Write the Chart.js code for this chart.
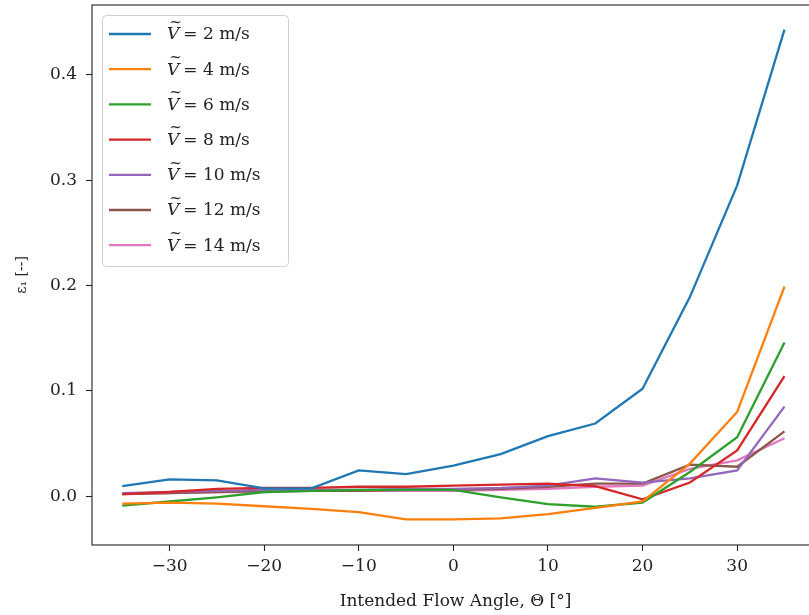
<!DOCTYPE html>
<html lang="en">
<head>
<meta charset="UTF-8">
<title>Flow angle error</title>
<script src="https://cdn.jsdelivr.net/npm/chart.js"></script>
<style>
    html, body {
        margin: 0;
        padding: 0;
        background: #fff;
        overflow: hidden;
    }
    #wrap {
        width: 820px;
        height: 615px;
    }
</style>
</head>
<body>
<div id="wrap"><canvas id="chart" width="820" height="615"></canvas></div>
<script>
    // intended flow angle (deg)
    const angles = [-35, -30, -25, -20, -15, -10, -5, 0, 5, 10, 15, 20, 25, 30, 35];

    // epsilon_1 for each wind speed
    const v2  = [0.0095, 0.016, 0.015, 0.0075, 0.0075, 0.0245, 0.021, 0.029, 0.040, 0.057, 0.069, 0.102, 0.189, 0.295, 0.443];
    const v4  = [-0.007, -0.006, -0.007, -0.0095, -0.012, -0.015, -0.022, -0.022, -0.021, -0.017, -0.011, -0.005, 0.031, 0.080, 0.199];
    const v6  = [-0.009, -0.005, -0.001, 0.004, 0.005, 0.006, 0.006, 0.006, -0.001, -0.0075, -0.010, -0.006, 0.023, 0.056, 0.146];
    const v8  = [0.002, 0.004, 0.007, 0.008, 0.008, 0.009, 0.009, 0.010, 0.011, 0.012, 0.0095, -0.003, 0.013, 0.0435, 0.114];
    const v10 = [0.003, 0.004, 0.005, 0.006, 0.006, 0.006, 0.007, 0.007, 0.008, 0.010, 0.017, 0.013, 0.017, 0.0245, 0.085];
    const v12 = [0.002, 0.003, 0.004, 0.005, 0.005, 0.005, 0.006, 0.006, 0.007, 0.009, 0.012, 0.012, 0.030, 0.028, 0.0615];
    const v14 = [0.002, 0.003, 0.004, 0.004, 0.005, 0.005, 0.005, 0.005, 0.006, 0.007, 0.009, 0.010, 0.026, 0.034, 0.055];

    const speeds = ['2', '4', '6', '8', '10', '12', '14'];
    const seriesList = [v2, v4, v6, v8, v10, v12, v14];
    const colors = ['#1f77b4', '#ff7f0e', '#2ca02c', '#d62728', '#9467bd', '#8c564b', '#e377c2'];

    const xTicks = [-30, -20, -10, 0, 10, 20, 30];
    const yTicks = [0.0, 0.1, 0.2, 0.3, 0.4];

    const FONT = "'DejaVu Serif', serif";

    const datasets = seriesList.map(function (s, i) {
        return {
            label: 'V = ' + speeds[i] + ' m/s',
            data: angles.map(function (a, j) { return { x: a, y: s[j] }; }),
            borderColor: colors[i],
            backgroundColor: colors[i],
            borderWidth: 2.3,
            pointRadius: 0,
            tension: 0,
            fill: false
        };
    });

    // box around the plot area (matplotlib style spines)
    const framePlugin = {
        id: 'frame',
        afterDraw(chart) {
            const a = chart.chartArea;
            const ctx = chart.ctx;
            ctx.save();
            ctx.strokeStyle = '#222';
            ctx.lineWidth = 1.1;
            ctx.strokeRect(a.left, a.top, a.right - a.left, a.bottom - a.top);
            ctx.restore();
        }
    };

    // legend in the upper-left corner, drawn by hand
    const legendPlugin = {
        id: 'boxLegend',
        afterDatasetsDraw(chart) {
            const ctx = chart.ctx;
            const x0 = 102, y0 = 15, w = 186, h = 251, r = 4;
            ctx.save();
            ctx.beginPath();
            ctx.roundRect(x0 + 0.5, y0 + 0.5, w, h, r);
            ctx.fillStyle = 'rgba(255,255,255,0.8)';
            ctx.fill();
            ctx.strokeStyle = '#d0d0d0';
            ctx.lineWidth = 1;
            ctx.stroke();

            ctx.textBaseline = 'middle';
            chart.data.datasets.forEach(function (ds, i) {
                const y = 34 + i * 35.2;
                ctx.strokeStyle = ds.borderColor;
                ctx.lineWidth = 2.3;
                ctx.beginPath();
                ctx.moveTo(109, y);
                ctx.lineTo(151, y);
                ctx.stroke();

                ctx.fillStyle = '#222';
                ctx.font = 'italic 17px ' + FONT;
                ctx.fillText('V', 167, y + 1);
                const vw = ctx.measureText('V').width;
                ctx.font = '15px ' + FONT;
                ctx.fillText('~', 167 + vw / 2 - 4, y - 11);
                ctx.font = '17px ' + FONT;
                ctx.fillText('= ' + speeds[i] + ' m/s', 167 + vw + 4, y + 1);
            });
            ctx.restore();
        }
    };

    const ctx = document.getElementById('chart').getContext('2d');
    new Chart(ctx, {
        type: 'line',
        data: { datasets: datasets },
        options: {
            responsive: false,
            animation: false,
            layout: { padding: { top: 5, right: 1, left: 0, bottom: 0 } },
            plugins: {
                legend: { display: false },
                tooltip: { enabled: false }
            },
            scales: {
                x: {
                    type: 'linear',
                    min: -38.2,
                    max: 38.65,
                    afterBuildTicks(scale) {
                        scale.ticks = xTicks.map(function (v) { return { value: v }; });
                    },
                    afterFit(scale) {
                        scale.height = 70;
                        scale.paddingLeft = 0;
                        scale.paddingRight = 0;
                    },
                    grid: {
                        drawOnChartArea: false,
                        drawTicks: true,
                        tickLength: 6,
                        color: '#222',
                        tickWidth: 1.1
                    },
                    border: { display: false },
                    ticks: {
                        color: '#222',
                        padding: 5,
                        maxRotation: 0,
                        font: { family: FONT, size: 17 },
                        callback: function (v) { return v < 0 ? '\u2212' + Math.abs(v) : String(v); }
                    },
                    title: {
                        display: true,
                        text: 'Intended Flow Angle, \u0398 [\u00b0]',
                        color: '#222',
                        font: { family: FONT, size: 17 },
                        padding: { top: 0, bottom: 3 }
                    }
                },
                y: {
                    type: 'linear',
                    min: -0.0463,
                    max: 0.4663,
                    afterBuildTicks(scale) {
                        scale.ticks = yTicks.map(function (v) { return { value: v }; });
                    },
                    afterFit(scale) {
                        scale.width = 92;
                        scale.paddingTop = 0;
                        scale.paddingBottom = 0;
                    },
                    grid: {
                        drawOnChartArea: false,
                        drawTicks: true,
                        tickLength: 6,
                        color: '#222',
                        tickWidth: 1.1
                    },
                    border: { display: false },
                    ticks: {
                        color: '#222',
                        padding: 9,
                        font: { family: FONT, size: 17 },
                        callback: function (v) { return v.toFixed(1); }
                    },
                    title: {
                        display: true,
                        text: '\u03b5\u2081 [--]',
                        color: '#222',
                        font: { family: FONT, size: 14 },
                        padding: { top: 14, bottom: 0 }
                    }
                }
            }
        },
        plugins: [framePlugin, legendPlugin]
    });
</script>
</body>
</html>
